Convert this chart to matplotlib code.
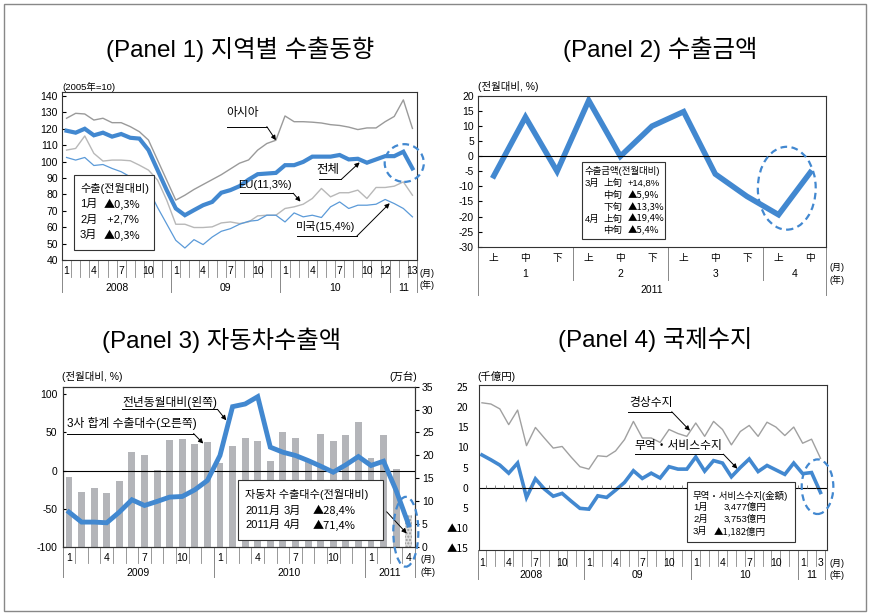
import matplotlib
matplotlib.use('Agg')
import matplotlib.pyplot as plt
from matplotlib.patches import Ellipse, Rectangle

plt.rcParams['font.family'] = ['Liberation Sans', 'Noto Sans CJK KR', 'DejaVu Sans']
plt.rcParams['font.size'] = 7.5
plt.rcParams['axes.linewidth'] = 0.8
plt.rcParams['axes.unicode_minus'] = False

W, H = 870, 615
BLUE = '#4288d0'
DARK = '#333333'
SEP = '#888888'
TRI = ['Noto Sans CJK KR', 'DejaVu Sans']   # for texts with ▲

# ---- Panel 1: exports by region (2005=100), Jan 2008 - Mar 2011
p1_total = [118.8, 117.6, 120, 116, 117.6, 115.2, 116.8, 114.5, 114, 107, 94.8, 82.6,
            71.4, 67.3, 70.4, 73.4, 75.4, 81, 82.6, 85, 89, 92.3, 92.7, 93.1,
            97.8, 97.8, 99.8, 103, 103, 103, 104, 101.3, 101.7, 99.3, 101.3, 103.3,
            103.3, 106, 95.8]
p1_asia = [126.4, 129.4, 129, 125.3, 126.4, 123.7, 123.7, 121.3, 118.2, 113.1, 100.9, 88.7,
           76.5, 79.5, 83, 86, 89, 92, 95.5, 99, 101, 107, 111, 113,
           127.8, 124.3, 124.3, 124, 123.5, 122.5, 122, 121, 119.5, 120.5, 120.5, 124.3,
           127.5, 137.6, 120.2]
p1_eu = [107, 108, 115.6, 105, 100.3, 100.9, 100.9, 100.5, 97.8, 94.8, 88.7, 76.5,
         61.8, 61.8, 59.8, 59.8, 60.2, 62.6, 63.2, 62.2, 63.2, 66.9, 67.3, 67.3,
         71.4, 72.4, 74, 77.5, 83.6, 78.5, 81, 81, 82.6, 77.5, 84.2, 84.2,
         85, 87.6, 79.5]
p1_us = [102.5, 100.9, 102.5, 97.6, 98.2, 95.8, 93.8, 90.7, 87.6, 83, 72, 62,
         52, 47.3, 52.4, 49.4, 54, 57.5, 59.1, 61.8, 63.6, 64.2, 67.3, 67.3,
         63.2, 68.7, 66.3, 67.3, 65.9, 72.4, 75.4, 71.4, 73.4, 73.4, 74, 76.9,
         74.4, 71.4, 66.3]
p1_tick_idx = [0, 3, 6, 9, 12, 15, 18, 21, 24, 27, 30, 33, 35, 38]
p1_tick_lab = ['1', '4', '7', '10', '1', '4', '7', '10', '1', '4', '7', '10', '12', '13']
p1_years = ['2008', '09', '10', '11']
p1_year_start = [0, 12, 24, 36, 39]

# ---- Panel 2: export value, 10-day periods, 2011
p2_sub = ['上', '中', '下', '上', '中', '下', '上', '中', '下', '上', '中']
p2_vals = [-6.5, 13, -5, 18.5, 0, 10, 14.8, -5.9, -13.3, -19.4, -5.4]
p2_months = ['1', '2', '3', '4']
p2_month_start = [0, 3, 6, 9, 11]

# ---- Panel 3: car exports, Jan 2009 - Apr 2011
p3_units = [15.2, 12.0, 12.8, 11.7, 14.3, 20.7, 20.1, 16.8, 23.4, 23.6, 22.5, 23.0,
            18.3, 22.1, 23.8, 23.2, 18.7, 25.1, 23.8, 18.5, 24.7, 23.2, 24.5, 27.2,
            19.5, 24.5, 17.1, 6.9]
p3_yoy = [-54.6, -67.7, -67.7, -68.6, -54.6, -38.4, -45.9, -40.6, -34.9, -34.1, -25.3, -13.1,
          19.7, 83.8, 87.3, 96.9, 30.6, 24, 19.7, 13.1, 5.7, -2.2, 7.4, 18.3,
          6.6, 12.2, -26.2, -71.4]
p3_tick_idx = [0, 3, 6, 9, 12, 15, 18, 21, 24, 27]
p3_tick_lab = ['1', '4', '7', '10', '1', '4', '7', '10', '1', '4']
p3_years = ['2009', '2010', '2011']
p3_year_start = [0, 12, 24, 28]

# ---- Panel 4: balance of payments (千億円), Jan 2008 - Mar 2011
p4_current = [21, 20.7, 19.5, 15.6, 19.2, 10.4, 14.9, 12.3, 9.8, 10.2, 7.6, 5.2,
              4.6, 7.9, 7.7, 9.1, 11.9, 16.4, 12.3, 12.3, 11.2, 14.4, 13.4, 12.7,
              16, 12.7, 16.4, 14.4, 10.6, 13.9, 15.4, 12.7, 16.2, 15, 12.9, 15,
              11, 12, 7.3]
p4_trade = [8.1, 6.9, 5.6, 3.6, 6.1, -2.4, 2.2, -0.3, -2.1, -1.4, -3.3, -5.1,
            -5.3, -2, -2.4, -0.6, 1.3, 4.2, 2.3, 3.6, 2.4, 5.2, 4.6, 4.6,
            7.6, 4.1, 6.7, 6.1, 2.7, 5, 7.1, 4, 5.5, 4.4, 3.3, 6.1,
            3.477, 3.753, -1.182]
p4_tick_idx = [0, 3, 6, 9, 12, 15, 18, 21, 24, 27, 30, 33, 36, 38]
p4_tick_lab = ['1', '4', '7', '10', '1', '4', '7', '10', '1', '4', '7', '10', '1', '3']
p4_years = ['2008', '09', '10', '11']
p4_year_start = [0, 12, 24, 36, 39]
p4_ylabels = ['▲15', '▲10', '5', '0', '5', '10', '15', '20', '25']

fig = plt.figure(figsize=(W / 100, H / 100), dpi=100)


def px_axes(l, t, r, b):
    return fig.add_axes([l / W, 1 - b / H, (r - l) / W, (b - t) / H])


def fxy(x, y):
    return x / W, 1 - y / H


def ftext(x, y, s, **kw):
    kw.setdefault('va', 'center')
    if '▲' in s:
        kw.setdefault('family', TRI)
    fig.text(*fxy(x, y), s, **kw)


def fbox(x0, y0, x1, y1):
    fig.add_artist(Rectangle(fxy(x0, y1), (x1 - x0) / W, (y1 - y0) / H,
                             transform=fig.transFigure, fc='white', ec=DARK,
                             lw=0.8, zorder=2))


def month_rows(ax, n, idx, labs, ystart, ylabs, lab_dy, tick_dy, year_dy, sep_dy):
    hpx = ax.get_position().height * H
    tr = ax.get_xaxis_transform()
    for i in range(1, n):
        ax.plot([i - 0.5, i - 0.5], [0, -tick_dy / hpx], transform=tr,
                color=SEP, lw=0.6, clip_on=False)
    for i, t in zip(idx, labs):
        ax.text(i, -lab_dy / hpx, t, transform=tr, ha='center', va='center', fontsize=7.5)
    for b in ystart:
        ax.plot([b - 0.5, b - 0.5], [0, -sep_dy / hpx], transform=tr,
                color=SEP, lw=0.7, clip_on=False)
    for k, t in enumerate(ylabs):
        c = (ystart[k] + ystart[k + 1] - 1) / 2
        ax.text(c, -year_dy / hpx, t, transform=tr, ha='center', va='center', fontsize=7.5)


def callout(ax, s, tx, ty, x0, x1, uy, px, py, fs=8):
    ax.text(tx, ty, s, ha='center', va='center', fontsize=fs, zorder=6)
    ax.plot([x0, x1], [uy, uy], color='k', lw=0.7, clip_on=False, zorder=6)
    ax.annotate('', xy=(px, py), xytext=(x1, uy),
                arrowprops=dict(arrowstyle='-|>', color='k', lw=0.7,
                                mutation_scale=7, shrinkA=0, shrinkB=0), zorder=6)


def ring(ax, x, y, w, h):
    ax.add_patch(Ellipse((x, y), w, h, fill=False, ec=BLUE, lw=1.6,
                         ls=(0, (3, 2)), clip_on=False, zorder=7))


# ================= Panel 1
ax1 = px_axes(62, 92, 417, 260)
m1 = range(len(p1_total))
ax1.plot(m1, p1_asia, color='#9a9a9a', lw=1.0)
ax1.plot(m1, p1_eu, color='#b8b8b8', lw=1.0)
ax1.plot(m1, p1_us, color='#5b9ad8', lw=0.9)
ax1.plot(m1, p1_total, color=BLUE, lw=3.0, solid_joinstyle='miter')
ax1.set_xlim(-0.5, 38.5)
ax1.set_ylim(40, 142.4)
ax1.set_yticks(range(40, 141, 10))
ax1.set_xticks([])
ax1.tick_params(axis='y', direction='in', length=3, pad=3)
month_rows(ax1, len(p1_total), p1_tick_idx, p1_tick_lab, p1_year_start, p1_years,
           11, 17, 28, 32)
callout(ax1, '아시아', 19.3, 129.6, 17.6, 22.0, 121.3, 23, p1_asia[23], fs=8.5)
callout(ax1, '전체', 28.75, 94.9, 27.7, 30.2, 89.2, 32.2, 99.5, fs=9)
callout(ax1, 'EU(11,3%)', 21.8, 85.7, 19.05, 24.9, 80.7, 25.7, 75.6)
callout(ax1, '미국(15,4%)', 28.4, 60.3, 25.3, 31.9, 54.6, 35.5, 74.6)
ring(ax1, 37.1, 99.1, 4.3, 23)
ftext(62, 87, '(2005年=10)', fontsize=6.8)
ftext(420, 274, '(月)', fontsize=6.5)
ftext(420, 285, '(年)', fontsize=6.5)
fbox(74, 175, 154, 250)
ftext(80, 188, '수출(전월대비)', fontsize=8)
for k, (m, v) in enumerate([('1月', '▲0,3%'), ('2月', ' +2,7%'), ('3月', '▲0,3%')]):
    ftext(80, 204 + 15.5 * k, m, fontsize=8)
    ftext(104, 204 + 15.5 * k, v, fontsize=8)

# ================= Panel 2
ax2 = px_axes(478, 95.7, 826, 247)
ax2.plot(range(len(p2_vals)), p2_vals, color=BLUE, lw=4.0, solid_joinstyle='miter')
ax2.axhline(0, color='k', lw=0.8)
ax2.set_xlim(-0.5, 10.5)
ax2.set_ylim(-30.1, 20.1)
ax2.set_yticks(range(-30, 21, 5))
ax2.set_xticks([])
ax2.tick_params(axis='y', direction='in', length=3, pad=3)
h2 = ax2.get_position().height * H
tr2 = ax2.get_xaxis_transform()
for i, t in enumerate(p2_sub):
    ax2.text(i, -11 / h2, t, transform=tr2, ha='center', va='center', fontsize=7)
for k, t in enumerate(p2_months):
    c = (p2_month_start[k] + p2_month_start[k + 1] - 1) / 2
    ax2.text(c, -27 / h2, t, transform=tr2, ha='center', va='center', fontsize=7.5)
for b in p2_month_start[1:-1]:
    ax2.plot([b - 0.5, b - 0.5], [0, -33 / h2], transform=tr2, color=SEP, lw=0.7, clip_on=False)
for b in (p2_month_start[0], p2_month_start[-1]):
    ax2.plot([b - 0.5, b - 0.5], [0, -48 / h2], transform=tr2, color=SEP, lw=0.7, clip_on=False)
ax2.text(5, -43 / h2, '2011', transform=tr2, ha='center', va='center', fontsize=7.5)
ring(ax2, 9.26, -10.6, 1.83, 27.5)
ftext(478, 87, '(전월대비, %)', fontsize=7.5)
ftext(830, 268, '(月)', fontsize=6.5)
ftext(830, 280, '(年)', fontsize=6.5)
fbox(582, 162, 665, 239)
ftext(585, 171, '수출금액(전월대비)', fontsize=6.8)
p2_box = [('3月', '上旬', '+14,8%'), ('', '中旬', '▲5,9%'), ('', '下旬', '▲13,3%'),
          ('4月', '上旬', '▲19,4%'), ('', '中旬', '▲5,4%')]
for k, (m, s, v) in enumerate(p2_box):
    y = 183.3 + 11.9 * k
    ftext(585, y, m, fontsize=6.8)
    ftext(603, y, s, fontsize=6.8)
    ftext(628, y, v, fontsize=6.8)

# ================= Panel 3
ax3 = px_axes(62.7, 386.7, 415, 546.7)
ax3r = ax3.twinx()
ax3.set_zorder(ax3r.get_zorder() + 1)
ax3.patch.set_visible(False)
m3 = list(range(len(p3_units)))
bars = ax3r.bar(m3, p3_units, width=0.55, color='#b4b5b9', lw=0)
bars[-1].set_facecolor('#dcdcdc')
bars[-1].set_hatch('.....')
bars[-1].set_edgecolor('#9a9a9a')
ax3r.set_ylim(0, 35)
ax3r.set_yticks(range(0, 36, 5))
ax3r.tick_params(axis='y', direction='out', length=3, pad=2)
ax3.plot(m3, p3_yoy, color=BLUE, lw=3.5, solid_joinstyle='miter', zorder=4)
ax3.axhline(0, color='k', lw=0.8, zorder=3)
ax3.set_xlim(-0.5, 27.5)
ax3.set_ylim(-100, 110)
ax3.set_yticks([-100, -50, 0, 50, 100])
ax3.set_xticks([])
ax3.tick_params(axis='y', direction='in', length=2, pad=4)
month_rows(ax3, len(p3_units), p3_tick_idx, p3_tick_lab, p3_year_start, p3_years,
           11, 16, 26, 30)
callout(ax3, '전년동월대비(왼쪽)', 8.03, 89.5, 4.2, 11.8, 80.3, 12.5, 65.9, fs=8.5)
callout(ax3, '3사 합계 수출대수(오른쪽)', 4.97, 61.5, -0.13, 9.9, 48.5, 10.67, 35.4, fs=8.5)
ring(ax3, 26.77, -80.4, 1.99, 91.7)
ax3.annotate('', xy=(26.84, -82.6), xytext=(25.25, -54.2),
             arrowprops=dict(arrowstyle='-|>', color='k', lw=0.7, mutation_scale=7,
                             shrinkA=0, shrinkB=0), zorder=6)
ftext(62, 377, '(전월대비, %)', fontsize=7.5)
ftext(417, 377, '(万台)', fontsize=7.5, ha='right')
ftext(421, 559, '(月)', fontsize=6.5)
ftext(421, 572, '(年)', fontsize=6.5)
fbox(238, 480, 383, 540)
ftext(245, 494, '자동차 수출대수(전월대비)', fontsize=8)
for k, (m, v) in enumerate([('3月', '▲28,4%'), ('4月', '▲71,4%')]):
    y = 510.5 + 14.5 * k
    ftext(245, y, '2011月', fontsize=8)
    ftext(284, y, m, fontsize=8)
    ftext(313, y, v, fontsize=8)

# ================= Panel 4
ax4 = px_axes(479.3, 385, 826.7, 550)
m4 = range(len(p4_trade))
ax4.plot(m4, p4_current, color='#a0a0a0', lw=1.0)
ax4.plot(m4, p4_trade, color=BLUE, lw=2.6, solid_joinstyle='miter')
ax4.axhline(0, color='k', lw=0.8)
ax4.vlines([i + 0.5 for i in range(len(p4_trade) - 1)], 0, 0.7, color='#777777', lw=0.6)
ax4.set_xlim(-0.3, 38.7)
ax4.set_ylim(-15.4, 25.4)
ax4.set_yticks(range(-15, 26, 5))
ax4.set_yticklabels(p4_ylabels, family=TRI)
ax4.set_xticks([])
ax4.tick_params(axis='y', direction='in', length=0, pad=8)
month_rows(ax4, len(p4_trade), p4_tick_idx, p4_tick_lab, p4_year_start, p4_years,
           13, 16, 25, 29)
callout(ax4, '경상수지', 18.94, 20.9, 16.4, 21.3, 18.8, 23.35, 14.1, fs=8.5)
callout(ax4, '무역・서비스수지', 22.1, 10.3, 17.2, 27.1, 8.3, 28.67, 4.7, fs=8.5)
ring(ax4, 37.67, 0.25, 3.55, 13.5)
ftext(477, 377, '(千億円)', fontsize=7.5)
ftext(830, 563, '(月)', fontsize=6.5)
ftext(830, 575, '(年)', fontsize=6.5)
fbox(687, 482, 795, 542)
ftext(693, 496, '무역・서비스수지(金額)', fontsize=6.8)
for k, (m, v) in enumerate([('1月', '3,477億円'), ('2月', '3,753億円'), ('3月', '▲1,182億円')]):
    y = 507.5 + 11.8 * k
    ftext(693, y, m, fontsize=6.8)
    ftext(766, y, v, fontsize=6.8, ha='right')

for ax in (ax1, ax2, ax3, ax3r, ax4):
    for sp in ax.spines.values():
        sp.set_color(DARK)

# ================= titles and outer border
ftext(240, 49, '(Panel 1) 지역별 수출동향', fontsize=17.5, ha='center')
ftext(660, 49, '(Panel 2) 수출금액', fontsize=17.5, ha='center')
ftext(222, 340, '(Panel 3) 자동차수출액', fontsize=17.5, ha='center')
ftext(655, 340, '(Panel 4) 국제수지', fontsize=17.5, ha='center')
fig.add_artist(Rectangle(fxy(4, 611), 862 / W, 607 / H, transform=fig.transFigure,
                         fill=False, ec='#888888', lw=1.0))

fig.savefig('out.png', dpi=100)
